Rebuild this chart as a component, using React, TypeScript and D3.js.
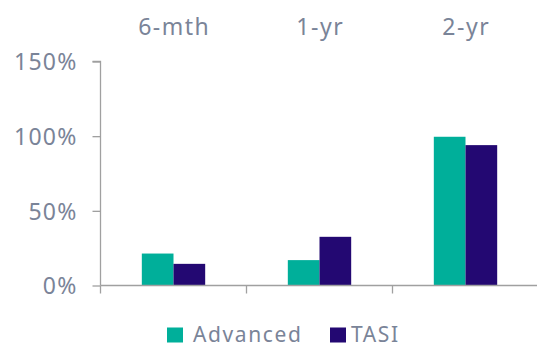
import { useEffect, useRef } from "react";
import * as d3 from "d3";

const categories = ["6-mth", "1-yr", "2-yr"];
const seriesNames = ["Advanced", "TASI"];
const advanced = [21.4, 17.0, 99.6];
const tasi = [14.5, 32.6, 94.0];
const yTicks = [0, 50, 100, 150];

const COLORS = ["#00AF9A", "#230872"];
const TEXT = "#7A8498";
const AXIS = "#A0A0A0";
const FONT = "'Noto Sans', 'Open Sans', sans-serif";

const W = 537;
const H = 348;
const MARGIN = { top: 61.5, right: -1.5, bottom: 62.5, left: 100.5 };

export default function App() {
  const svgRef = useRef<SVGSVGElement>(null);

  useEffect(() => {
    if (!svgRef.current) return;
    const svg = d3.select(svgRef.current);
    svg.selectAll("*").remove();

    const innerW = W - MARGIN.left - MARGIN.right;
    const innerH = H - MARGIN.top - MARGIN.bottom;

    const g = svg
      .append("g")
      .attr("transform", `translate(${MARGIN.left},${MARGIN.top})`);

    const x = d3.scaleBand<string>().domain(categories).range([0, innerW]).paddingInner(0.566).paddingOuter(0.283);
    const x1 = d3.scaleBand<string>().domain(seriesNames).range([0, x.bandwidth()]);
    const y = d3.scaleLinear().domain([0, 150]).range([innerH, 0]);

    // bars
    const data = categories.map((c, i) => ({ cat: c, vals: [advanced[i], tasi[i]] }));
    const groups = g
      .selectAll("g.grp")
      .data(data)
      .join("g")
      .attr("class", "grp")
      .attr("transform", (d) => `translate(${x(d.cat)},0)`);
    groups
      .selectAll("rect")
      .data((d) => d.vals.map((v, j) => ({ name: seriesNames[j], v, j })))
      .join("rect")
      .attr("x", (d) => x1(d.name)!)
      .attr("width", x1.bandwidth())
      .attr("y", (d) => y(d.v))
      .attr("height", (d) => innerH - y(d.v))
      .attr("fill", (d) => COLORS[d.j]);

    // y axis
    g.append("g")
      .call(d3.axisLeft(y).tickValues(yTicks).tickSize(8).tickPadding(15).tickFormat((d) => `${d}%`))
      .call((ax) => ax.select(".domain").attr("stroke", AXIS).attr("stroke-width", 1.3).attr("d", `M-8,0H0V${innerH}`))
      .call((ax) => ax.selectAll("line").attr("stroke", AXIS).attr("stroke-width", 1.3))
      .call((ax) =>
        ax
          .selectAll("text")
          .attr("fill", TEXT)
          .attr("font-size", 23)
          .attr("letter-spacing", 1.2)
          .attr("font-family", FONT)
          .attr("dy", "0.36em"),
      );

    // x axis line + boundary ticks
    const step = x.step();
    const bounds = d3.range(categories.length + 1).map((i) => i * step);
    const xa = g.append("g").attr("transform", `translate(0,${innerH})`);
    xa.append("line").attr("x1", 0).attr("x2", innerW).attr("stroke", AXIS).attr("stroke-width", 1.3);
    xa.selectAll("line.tk")
      .data(bounds)
      .join("line")
      .attr("class", "tk")
      .attr("x1", (d) => d)
      .attr("x2", (d) => d)
      .attr("y1", 0)
      .attr("y2", 8)
      .attr("stroke", AXIS)
      .attr("stroke-width", 1.3);

    // category labels on top
    svg
      .append("g")
      .selectAll("text")
      .data(categories)
      .join("text")
      .attr("x", (d) => MARGIN.left + x(d)! + x.bandwidth() / 2 + 0.75)
      .attr("y", 35)
      .attr("text-anchor", "middle")
      .attr("fill", TEXT)
      .attr("font-size", 23)
      .attr("letter-spacing", 1.5)
      .attr("font-family", FONT)
      .text((d) => d);

    // legend
    const legend = [
      { name: seriesNames[0], sx: 167, tx: 193 },
      { name: seriesNames[1], sx: 330, tx: 351 },
    ];
    const lg = svg.append("g");
    legend.forEach((l, i) => {
      lg.append("rect").attr("x", l.sx).attr("y", 327.5).attr("width", 16).attr("height", 15).attr("fill", COLORS[i]);
      lg.append("text")
        .attr("x", l.tx)
        .attr("y", 342)
        .attr("fill", TEXT)
        .attr("font-size", 21)
        .attr("letter-spacing", 1.6)
        .attr("font-family", FONT)
        .text(l.name);
    });
  }, []);

  return (
    <svg
      ref={svgRef}
      width={W}
      height={H}
      style={{ position: "absolute", left: 0, top: 0, background: "#fff" }}
    />
  );
}
